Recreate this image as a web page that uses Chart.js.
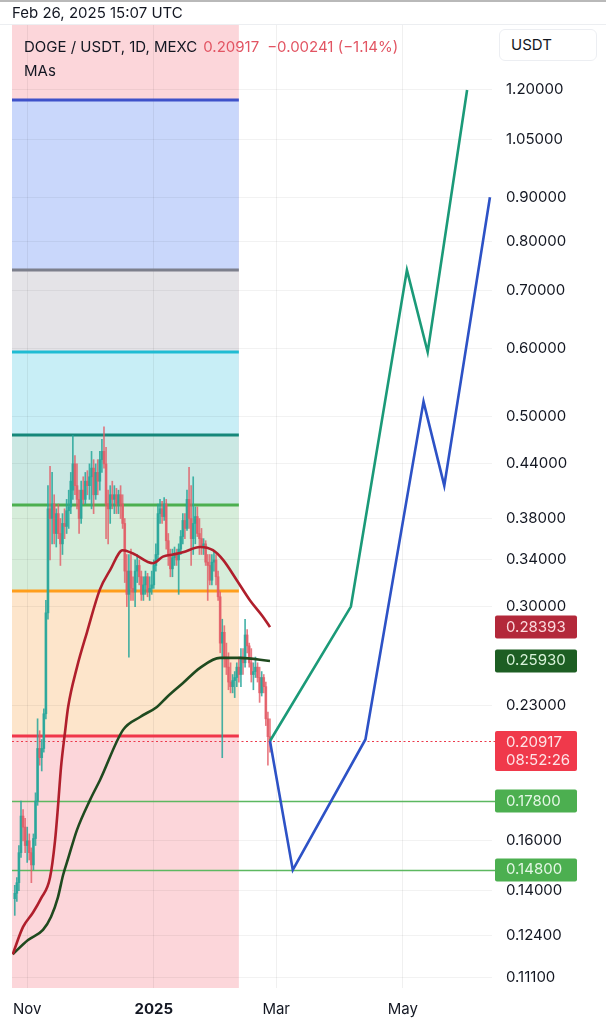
<!DOCTYPE html>
<html>
<head>
<meta charset="utf-8">
<script src="https://cdn.jsdelivr.net/npm/chart.js@4.4.1/dist/chart.umd.min.js"></script>
<style>
  html, body { margin: 0; padding: 0; background: #fff; }
  body { width: 606px; height: 1024px; position: relative; overflow: hidden;
         font-family: Inter, "Noto Sans", sans-serif; color: #131722; }
  #topbar { position: absolute; left: 0; top: 0; width: 606px; height: 2px; background: #b9b9b9; }
  #wrap { position: absolute; left: 0; top: 0; width: 606px; height: 1024px; }
  .stamp { position: absolute; left: 12px; top: 3px; font-size: 15px; }
  .legend { position: absolute; left: 24px; top: 37px; font-size: 15px; white-space: nowrap; }
  .legend .px { color: #e25563; margin-left: 6px; }
  .legend .chg { color: #e25563; margin-left: 8px; }
  .mas { position: absolute; left: 24px; top: 61px; font-size: 15px; }
  .unit { position: absolute; left: 499px; top: 29px; width: 98px; height: 32px; box-sizing: border-box;
          border: 1px solid #eceef2; border-radius: 6px; background: #fff; font-size: 15px;
          line-height: 30px; padding-left: 11px; }
</style>
</head>
<body>
<div id="wrap"><canvas id="chart" width="606" height="1024"></canvas></div>
<div id="topbar"></div>
<div class="stamp">Feb 26, 2025 15:07 UTC</div>
<div class="legend">DOGE / USDT, 1D, MEXC<span class="px">0.20917</span><span class="chg">−0.00241 (−1.14%)</span></div>
<div class="mas">MAs</div>
<div class="unit">USDT</div>
<script>
// days are counted from Nov 1, 2024 (day 0)
const firstCandleDay = -6; // Oct 26, 2024
const opens  = [0.137,0.139,0.143,0.155,0.171,0.166,0.158,0.160,0.155,0.150,0.161,0.178,0.205,0.200,0.205,0.225,0.295,0.390,0.380,0.395,0.365,0.385,0.365,0.355,0.375,0.372,0.388,0.392,0.410,0.440,0.415,0.400,0.380,0.410,0.400,0.420,0.415,0.425,0.435,0.405,0.430,0.420,0.445,0.455,0.440,0.395,0.390,0.405,0.400,0.405,0.395,0.405,0.395,0.375,0.330,0.310,0.330,0.315,0.312,0.330,0.335,0.325,0.310,0.318,0.325,0.312,0.315,0.318,0.335,0.345,0.385,0.390,0.382,0.395,0.358,0.345,0.332,0.342,0.345,0.340,0.350,0.362,0.378,0.370,0.400,0.380,0.360,0.375,0.382,0.365,0.360,0.352,0.355,0.338,0.335,0.322,0.338,0.340,0.325,0.308,0.272,0.280,0.262,0.255,0.245,0.242,0.246,0.248,0.255,0.250,0.262,0.258,0.278,0.270,0.258,0.250,0.252,0.255,0.248,0.238,0.248,0.242,0.222,0.2116];
const highs  = [0.142,0.145,0.158,0.178,0.174,0.170,0.166,0.163,0.157,0.163,0.182,0.222,0.215,0.210,0.228,0.305,0.415,0.437,0.430,0.405,0.390,0.395,0.380,0.385,0.390,0.400,0.410,0.430,0.475,0.450,0.440,0.410,0.420,0.425,0.430,0.432,0.440,0.455,0.445,0.440,0.445,0.455,0.470,0.486,0.460,0.410,0.415,0.420,0.415,0.412,0.410,0.415,0.405,0.380,0.345,0.345,0.350,0.325,0.340,0.345,0.340,0.330,0.325,0.330,0.328,0.325,0.330,0.340,0.355,0.395,0.400,0.398,0.402,0.400,0.365,0.350,0.350,0.352,0.350,0.355,0.368,0.385,0.385,0.410,0.436,0.415,0.425,0.392,0.392,0.380,0.370,0.360,0.358,0.345,0.345,0.345,0.348,0.345,0.330,0.312,0.290,0.285,0.272,0.265,0.258,0.250,0.252,0.258,0.262,0.268,0.268,0.290,0.282,0.272,0.268,0.258,0.262,0.258,0.255,0.252,0.250,0.245,0.226,0.222];
const lows   = [0.131,0.136,0.140,0.153,0.160,0.155,0.151,0.152,0.143,0.148,0.158,0.176,0.196,0.193,0.203,0.222,0.290,0.340,0.355,0.355,0.352,0.360,0.335,0.345,0.360,0.365,0.370,0.385,0.400,0.405,0.390,0.365,0.375,0.395,0.395,0.405,0.400,0.390,0.385,0.400,0.405,0.410,0.430,0.435,0.360,0.355,0.375,0.390,0.385,0.385,0.385,0.380,0.370,0.320,0.300,0.262,0.305,0.305,0.300,0.320,0.318,0.305,0.305,0.310,0.308,0.305,0.310,0.315,0.330,0.340,0.375,0.375,0.378,0.350,0.335,0.325,0.325,0.335,0.335,0.310,0.345,0.355,0.360,0.368,0.370,0.335,0.345,0.355,0.362,0.345,0.345,0.345,0.335,0.305,0.318,0.318,0.330,0.318,0.305,0.265,0.200,0.255,0.250,0.240,0.238,0.238,0.235,0.242,0.245,0.242,0.250,0.255,0.265,0.255,0.245,0.240,0.248,0.245,0.232,0.236,0.238,0.218,0.196,0.203];
const closes = [0.139,0.143,0.155,0.171,0.166,0.158,0.160,0.155,0.150,0.161,0.178,0.205,0.200,0.205,0.225,0.295,0.390,0.380,0.395,0.365,0.385,0.365,0.355,0.375,0.372,0.388,0.392,0.420,0.440,0.415,0.400,0.380,0.410,0.400,0.420,0.415,0.425,0.435,0.405,0.430,0.420,0.445,0.455,0.440,0.395,0.390,0.405,0.400,0.405,0.395,0.405,0.395,0.375,0.330,0.310,0.330,0.315,0.312,0.330,0.335,0.325,0.310,0.318,0.325,0.312,0.315,0.318,0.335,0.345,0.385,0.390,0.382,0.395,0.358,0.345,0.332,0.342,0.345,0.340,0.350,0.362,0.378,0.370,0.400,0.380,0.360,0.375,0.382,0.365,0.360,0.352,0.355,0.338,0.335,0.322,0.338,0.340,0.325,0.308,0.272,0.280,0.262,0.255,0.245,0.242,0.246,0.248,0.255,0.250,0.262,0.258,0.278,0.270,0.258,0.250,0.252,0.255,0.248,0.238,0.248,0.242,0.222,0.2116,0.20917];

// moving averages
const maRedDays = [-7,-2,2.8,6.6,11,13.4,14.8,16.3,18.2,19.7,24,28.8,35,40,46,51,60.6,65.4,70.3,75,83.3,89.5,94.4,101,107.4,113.6,117];
const maRedVals = [0.118,0.127,0.132,0.137,0.145,0.160,0.175,0.195,0.214,0.229,0.255,0.280,0.314,0.331,0.349,0.346,0.337,0.343,0.345,0.347,0.352,0.349,0.340,0.322,0.305,0.292,0.28393];
const maGreenDays = [-7,0.4,7.6,11.5,14.8,17.3,19.7,24,30.3,35.1,46.2,54.4,62.5,67.4,75.1,83.3,92.9,102.6,117];
const maGreenVals = [0.118,0.1226,0.126,0.1305,0.1375,0.146,0.1525,0.1648,0.1786,0.1884,0.2155,0.2231,0.2292,0.2354,0.2444,0.2545,0.2614,0.2614,0.2593];

// projected paths
const projGreenDays = [117,156,183,193,212];
const projGreenVals = [0.20917,0.30,0.74,0.594,1.20];
const projBlueDays = [117,128,163,191,201,223];
const projBlueVals = [0.20917,0.148,0.21,0.52,0.415,0.90];

// zones on the left part
const zoneStartDay = -9;
const zoneEndDay = 102;
const bandTops    = [1.168,0.74,0.594,0.4755,0.394,0.313];
const bandBottoms = [0.74,0.594,0.4755,0.394,0.313,0.212];
const zoneLevels  = [1.168,0.74,0.594,0.4755,0.394,0.313,0.212];

// full width levels and price labels
const supportLevels = [0.178,0.148];
const lastPrice = 0.20917;
const lastTimer = '08:52:26';
const maRedLast = 0.28393;
const maGreenLast = 0.25930;

// axes
const yTicks = [1.2,1.05,0.9,0.8,0.7,0.6,0.5,0.44,0.38,0.34,0.30,0.23,0.16,0.14,0.124,0.111];
const xTickDays = [0,61,120,181];
const xTickLabels = ['Nov','2025','Mar','May'];

const bandFill = ['#c9d7fb','#e4e3e7','#c8eef6','#cae8e3','#d6edda','#fde5cb'];
const zoneLineColors = ['#3e51c9','#7c7f8c','#1fbcd3','#15877a','#4caf50','#ff9e1c','#f0364a'];
const UP = 'rgba(38,166,154,0.85)';
const DOWN = 'rgba(226,90,100,0.8)';
const FONT = 'Inter, "Noto Sans", sans-serif';

const candleColors = closes.map((c, i) => c >= opens[i] ? UP : DOWN);
const wickData = lows.map((l, i) => ({ x: firstCandleDay + i, y: [l, highs[i]] }));
const bodyData = opens.map((o, i) => ({ x: firstCandleDay + i, y: [o, closes[i]] }));
const toXY = (xs, ys) => xs.map((x, i) => ({ x: x, y: ys[i] }));

const zonesPlugin = {
  id: 'zones',
  beforeDraw(chart) {
    const { ctx, chartArea: a, scales: { x, y } } = chart;
    const x0 = Math.max(a.left, x.getPixelForValue(zoneStartDay));
    const x1 = x.getPixelForValue(zoneEndDay);
    ctx.save();
    ctx.beginPath();
    ctx.rect(a.left, a.top, a.width, a.height);
    ctx.clip();
    ctx.fillStyle = '#fcd6da';
    ctx.fillRect(x0, a.top, x1 - x0, a.bottom - a.top);
    bandTops.forEach((t, i) => {
      const yt = y.getPixelForValue(t);
      const yb = y.getPixelForValue(bandBottoms[i]);
      ctx.fillStyle = bandFill[i];
      ctx.fillRect(x0, yt, x1 - x0, yb - yt);
    });
    ctx.restore();
  },
  beforeDatasetsDraw(chart) {
    const { ctx, chartArea: a, scales: { x, y } } = chart;
    const x0 = Math.max(a.left, x.getPixelForValue(zoneStartDay));
    const x1 = x.getPixelForValue(zoneEndDay);
    ctx.save();
    ctx.lineWidth = 3;
    zoneLevels.forEach((v, i) => {
      const py = Math.round(y.getPixelForValue(v));
      ctx.strokeStyle = zoneLineColors[i];
      ctx.beginPath();
      ctx.moveTo(x0, py);
      ctx.lineTo(x1, py);
      ctx.stroke();
    });
    // support levels across the whole chart
    ctx.lineWidth = 1.3;
    ctx.strokeStyle = '#5cb860';
    supportLevels.forEach(v => {
      const py = Math.round(y.getPixelForValue(v)) + 0.5;
      ctx.beginPath();
      ctx.moveTo(a.left, py);
      ctx.lineTo(a.right + 3, py);
      ctx.stroke();
    });
    // last price dotted line
    const pl = Math.round(y.getPixelForValue(lastPrice)) + 0.5;
    ctx.strokeStyle = '#ec3a4c';
    ctx.lineWidth = 1.2;
    ctx.setLineDash([2, 2.5]);
    ctx.beginPath();
    ctx.moveTo(a.left, pl);
    ctx.lineTo(a.right + 3, pl);
    ctx.stroke();
    ctx.restore();
  }
};

const priceTagsPlugin = {
  id: 'priceTags',
  afterDraw(chart) {
    const { ctx, chartArea: a, scales: { y } } = chart;
    const bx = a.right + 3, bw = 82;
    const tag = (v, bg, fg, lines) => {
      const cy = y.getPixelForValue(v);
      const h = lines.length > 1 ? 40 : 23;
      const top = lines.length > 1 ? cy - 10 : cy - h / 2;
      ctx.fillStyle = bg;
      ctx.beginPath();
      ctx.roundRect(bx, top, bw, h, 2);
      ctx.fill();
      ctx.fillStyle = fg;
      ctx.font = '15px ' + FONT;
      ctx.textBaseline = 'middle';
      ctx.textAlign = 'left';
      lines.forEach((t, i) => ctx.fillText(t, bx + 11, top + 11.5 + i * 18));
    };
    ctx.save();
    tag(maRedLast, '#b3283a', '#fbd9dd', [maRedLast.toFixed(5)]);
    tag(maGreenLast, '#1d5e23', '#d8f2d9', [maGreenLast.toFixed(5)]);
    tag(lastPrice, '#f0394b', '#fde3e6', [lastPrice.toFixed(5), lastTimer]);
    supportLevels.forEach(v => tag(v, '#4caf50', '#e4f7e5', [v.toFixed(5)]));
    // top border of the pane
    ctx.strokeStyle = '#eceef1';
    ctx.lineWidth = 1;
    ctx.beginPath();
    ctx.moveTo(0, a.top - 0.5);
    ctx.lineTo(606, a.top - 0.5);
    ctx.stroke();
    ctx.restore();
  }
};

new Chart(document.getElementById('chart'), {
  type: 'line',
  data: {
    datasets: [
      { type: 'bar', data: wickData, backgroundColor: candleColors, barThickness: 1, grouped: false, order: 5 },
      { type: 'bar', data: bodyData, backgroundColor: candleColors, barThickness: 2, grouped: false, order: 4 },
      { data: toXY(maRedDays, maRedVals), borderColor: '#b01f2c', borderWidth: 2.6, pointRadius: 0,
        cubicInterpolationMode: 'monotone', order: 3 },
      { data: toXY(maGreenDays, maGreenVals), borderColor: '#1f4a1f', borderWidth: 2.6, pointRadius: 0,
        cubicInterpolationMode: 'monotone', order: 3 },
      { data: toXY(projGreenDays, projGreenVals), borderColor: '#1b9a78', borderWidth: 2.6, pointRadius: 0,
        tension: 0, order: 2 },
      { data: toXY(projBlueDays, projBlueVals), borderColor: '#2d52c6', borderWidth: 2.6, pointRadius: 0,
        tension: 0, order: 1 }
    ]
  },
  options: {
    responsive: false,
    animation: false,
    layout: { padding: { left: 12, top: 25, right: 0, bottom: 0 } },
    plugins: { legend: { display: false }, tooltip: { enabled: false } },
    scales: {
      x: {
        type: 'linear',
        min: -7.33,
        max: 224,
        offset: false,
        border: { display: false },
        grid: { color: 'rgba(0,0,0,0.06)', drawTicks: false, offset: false },
        afterBuildTicks: s => { s.ticks = xTickDays.map(v => ({ value: v })); },
        afterFit: s => { s.height = 36; },
        ticks: {
          padding: 12,
          maxRotation: 0,
          autoSkip: false,
          color: '#131722',
          font: c => ({ family: FONT, size: 15, weight: c.tick && c.tick.value === 61 ? '700' : '400' }),
          callback: v => xTickLabels[xTickDays.indexOf(v)]
        }
      },
      y: {
        type: 'logarithmic',
        position: 'right',
        min: 0.1078,
        max: 1.4286,
        border: { display: false },
        grid: { color: 'rgba(0,0,0,0.05)', drawTicks: false },
        afterBuildTicks: s => { s.ticks = yTicks.map(v => ({ value: v })); },
        afterFit: s => { s.width = 114; },
        ticks: {
          padding: 14,
          color: '#131722',
          font: { family: FONT, size: 15 },
          callback: v => Number(v).toFixed(5)
        }
      }
    }
  },
  plugins: [zonesPlugin, priceTagsPlugin]
});
</script>
</body>
</html>
